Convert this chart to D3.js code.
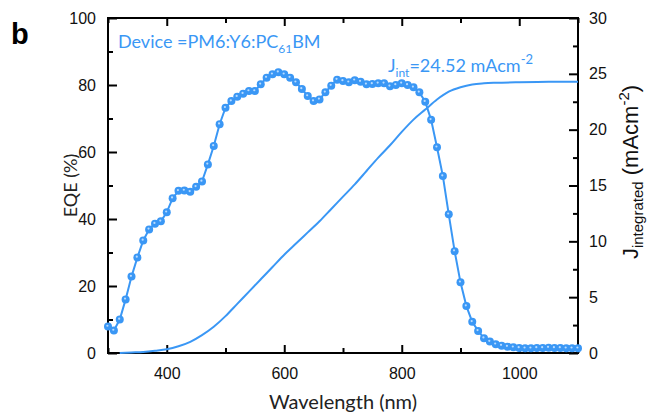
<!DOCTYPE html>
<html>
<head>
<meta charset="utf-8">
<script src="https://cdn.jsdelivr.net/npm/d3@7"></script>
<style>
  body { margin: 0; background: #fff; }
  .tick text { font-family: "Liberation Sans", Arial, sans-serif; font-size: 16px; fill: #111; }
</style>
</head>
<body>
<div id="chart"></div>
<script>
// EQE measured every 10 nm, 300..1100
var wavelengths = d3.range(300, 1101, 10);
var eqeValues = [
  7.9, 6.7, 10.0, 16.0, 22.8, 28.5, 33.6, 36.9, 38.6, 39.3,
  42.0, 46.2, 48.4, 48.5, 48.1, 49.6, 51.2, 56.3, 61.8, 68.3,
  73.2, 75.2, 76.5, 77.4, 78.2, 78.2, 80.2, 82.2, 83.2, 83.8,
  83.2, 82.2, 80.8, 78.8, 76.7, 75.2, 75.7, 77.8, 79.8, 81.6,
  81.2, 80.8, 81.4, 81.0, 80.2, 80.3, 80.5, 80.5, 79.6, 80.0,
  80.5, 80.0, 79.3, 77.8, 75.0, 69.6, 61.4, 52.8, 41.4, 30.4,
  21.1, 14.0, 9.3, 6.6, 4.4, 3.4, 2.6, 2.2, 1.9, 1.7,
  1.5, 1.4, 1.4, 1.5, 1.5, 1.6, 1.5, 1.5, 1.4, 1.4, 1.4
];

// integrated current (right axis)
var jWavelengths = [320, 340, 360, 380, 400, 420, 440, 460, 480, 500, 520, 540, 560, 580, 600,
  620, 640, 660, 680, 700, 720, 740, 760, 780, 800, 820, 840, 860, 880, 900,
  920, 940, 960, 1000, 1050, 1100];
var jValues = [0, 0.05, 0.1, 0.2, 0.33, 0.6, 1.0, 1.6, 2.35, 3.3, 4.4, 5.5, 6.6, 7.7, 8.8,
  9.8, 10.8, 11.8, 12.9, 14.0, 15.1, 16.3, 17.5, 18.6, 19.8, 20.9, 21.8, 22.7, 23.4, 23.8,
  24.05, 24.15, 24.2, 24.25, 24.28, 24.3];

var xTicks = [400, 600, 800, 1000];
var xMinor = [300, 500, 700, 900, 1100];
var eqeTicks = [0, 20, 40, 60, 80, 100];
var jTicks = [0, 5, 10, 15, 20, 25, 30];

var blue = "#3a97f5";
var width = 649, height = 417;
var margin = {top: 18, bottom: 64, left: 108, right: 71};
var w = width - margin.left - margin.right;
var h = height - margin.top - margin.bottom;

var x = d3.scaleLinear().domain([300, 1100]).range([0, w]);
var yL = d3.scaleLinear().domain([0, 100]).range([h, 0]);
var yR = d3.scaleLinear().domain([0, 30]).range([h, 0]);

var svg = d3.select("#chart").append("svg")
    .attr("width", width)
    .attr("height", height);

svg.append("text")
    .attr("x", 11).attr("y", 44)
    .style("font-family", "Liberation Sans, Arial, sans-serif")
    .style("font-weight", "bold")
    .style("font-size", "29px")
    .text("b");

var g = svg.append("g")
    .attr("transform", "translate(" + margin.left + "," + margin.top + ")");

function styleAxis(sel) {
    sel.select(".domain").remove();
    sel.selectAll(".tick line").attr("stroke", "#000").attr("stroke-width", 2);
}

// axes with inward ticks
g.append("g").attr("transform", "translate(0," + h + ")")
    .call(d3.axisBottom(x).tickValues(xTicks).tickSize(-8).tickPadding(15).tickFormat(d3.format("d")))
    .call(styleAxis);
g.append("g").attr("transform", "translate(0," + h + ")")
    .call(d3.axisBottom(x).tickValues(xMinor).tickSize(-5).tickFormat(""))
    .call(styleAxis);
g.append("g")
    .call(d3.axisTop(x).tickValues(xTicks).tickSize(-8).tickFormat(""))
    .call(styleAxis);
g.append("g")
    .call(d3.axisTop(x).tickValues(xMinor).tickSize(-5).tickFormat(""))
    .call(styleAxis);

g.append("g")
    .call(d3.axisLeft(yL).tickValues(eqeTicks).tickSize(-9).tickPadding(12))
    .call(styleAxis);
g.append("g")
    .call(d3.axisLeft(yL).tickValues([10, 30, 50, 70, 90]).tickSize(-5).tickFormat(""))
    .call(styleAxis);

g.append("g").attr("transform", "translate(" + w + ",0)")
    .call(d3.axisRight(yR).tickValues(jTicks).tickSize(-9).tickPadding(11))
    .call(styleAxis);
g.append("g").attr("transform", "translate(" + w + ",0)")
    .call(d3.axisRight(yR).tickValues([2.5, 7.5, 12.5, 17.5, 22.5, 27.5]).tickSize(-5).tickFormat(""))
    .call(styleAxis);

g.append("rect")
    .attr("width", w).attr("height", h)
    .attr("fill", "none")
    .attr("stroke", "#000")
    .attr("stroke-width", 2);

// integrated current curve
var jData = jWavelengths.map(function(d, i) { return [d, jValues[i]]; });
g.append("path")
    .datum(jData)
    .attr("fill", "none")
    .attr("stroke", blue)
    .attr("stroke-width", 2)
    .attr("d", d3.line().x(d => x(d[0])).y(d => yR(d[1])).curve(d3.curveMonotoneX));

// EQE line + dots
var eqeData = wavelengths.map(function(d, i) { return [d, eqeValues[i]]; });
g.append("path")
    .datum(eqeData)
    .attr("fill", "none")
    .attr("stroke", blue)
    .attr("stroke-width", 2)
    .attr("d", d3.line().x(d => x(d[0])).y(d => yL(d[1])));

var dots = g.append("g").selectAll("g")
    .data(eqeData)
    .enter()
    .append("g")
    .attr("transform", d => "translate(" + x(d[0]) + "," + yL(d[1]) + ")");
dots.append("circle").attr("r", 4).attr("fill", blue);
dots.append("circle").attr("r", 1.1).attr("cx", -0.6).attr("cy", -0.8).attr("fill", "#b8dbff");

// annotations
var labelFont = "Lato, 'Open Sans', sans-serif";
var dev = g.append("text")
    .attr("x", 10).attr("y", 30)
    .attr("fill", blue)
    .style("font-family", labelFont)
    .style("font-size", "18px");
dev.append("tspan").text("Device =PM6:Y6:PC");
dev.append("tspan").attr("dy", 5).style("font-size", "12px").text("61");
dev.append("tspan").attr("dy", -5).text("BM");

var jl = g.append("text")
    .attr("x", 280).attr("y", 54)
    .attr("fill", blue)
    .style("font-family", labelFont)
    .style("font-size", "18px");
jl.append("tspan").text("J");
jl.append("tspan").attr("dy", 5).style("font-size", "12px").text("int");
jl.append("tspan").attr("dy", -5).text("=24.52 mAcm");
jl.append("tspan").attr("dy", -8).style("font-size", "13px").text("-2");

svg.append("text")
    .attr("x", margin.left + w / 2).attr("y", 409)
    .attr("text-anchor", "middle")
    .style("font-family", labelFont)
    .style("font-size", "20px")
    .attr("fill", "#222")
    .text("Wavelength (nm)");

svg.append("text")
    .attr("transform", "translate(77," + (margin.top + h / 2) + ") rotate(-90)")
    .attr("text-anchor", "middle")
    .style("font-family", labelFont)
    .style("font-size", "18px")
    .attr("fill", "#222")
    .text("EQE (%)");

var rl = svg.append("text")
    .attr("transform", "translate(638,172) rotate(-90)")
    .attr("text-anchor", "middle")
    .style("font-family", "Liberation Sans, Arial, sans-serif")
    .style("font-size", "22px")
    .attr("fill", "#111");
rl.append("tspan").text("J");
rl.append("tspan").attr("dy", 5).style("font-size", "15px").text("integrated");
rl.append("tspan").attr("dy", -5).text(" (mAcm");
rl.append("tspan").attr("dy", -9).style("font-size", "15px").text("-2");
rl.append("tspan").attr("dy", 9).text(")");
</script>
</body>
</html>
